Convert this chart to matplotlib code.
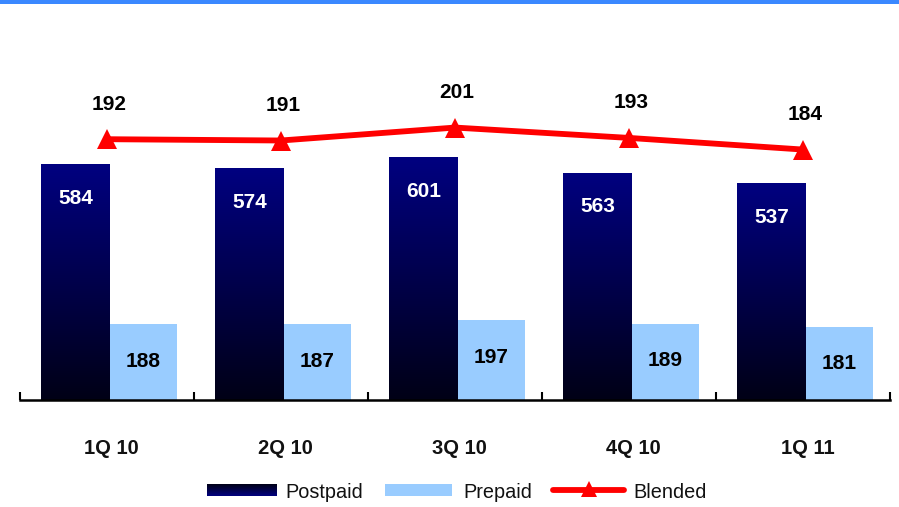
import numpy as np
import matplotlib
matplotlib.use("Agg")
import matplotlib.pyplot as plt
from matplotlib.colors import LinearSegmentedColormap
from matplotlib.patches import Rectangle
from matplotlib.lines import Line2D

plt.rcParams['font.family'] = ['Liberation Sans', 'DejaVu Sans']

# ARPU by quarter
quarters = ["1Q 10", "2Q 10", "3Q 10", "4Q 10", "1Q 11"]
postpaid = [584, 574, 601, 563, 537]
prepaid = [188, 187, 197, 189, 181]
blended = [192, 191, 201, 193, 184]

NAVY_TOP = (0 / 255, 0 / 255, 128 / 255)
NAVY_BOTTOM = (0 / 255, 0 / 255, 22 / 255)
LIGHT_BLUE = "#99ccff"
RED = "#ff0000"
navy_cmap = LinearSegmentedColormap.from_list("navy_grad", [NAVY_BOTTOM, NAVY_TOP])
grad = np.linspace(0, 1, 256).reshape(-1, 1)

W, H = 899, 507
fig = plt.figure(figsize=(W / 100, H / 100), dpi=100)


def fx(px):
    return px / W


def fy(py):
    return 1 - py / H


# thin accent band along the top edge
fig.patches.append(Rectangle((0, fy(4)), 1, 4 / H, transform=fig.transFigure,
                             facecolor="#3a88ff", edgecolor="none", zorder=0))

ax = fig.add_axes([fx(20), fy(400), fx(870), 340 / H])
ax2 = ax.twinx()

x = np.arange(len(quarters))
pw, qw = 0.395, 0.385
post_left = x - 0.378
pre_left = x + 0.017

bars_post = ax.bar(post_left, postpaid, width=pw, align="edge",
                   color="none", edgecolor="none", zorder=2)
for rect in bars_post:
    x0, w, h = rect.get_x(), rect.get_width(), rect.get_height()
    im = ax.imshow(grad, cmap=navy_cmap, origin="lower", aspect="auto",
                   extent=[x0, x0 + w, 0, h], zorder=2, interpolation="bicubic")
    im.set_clip_path(rect)

ax.bar(pre_left, prepaid, width=qw, align="edge", color=LIGHT_BLUE,
       edgecolor="none", zorder=2)

VAL_FS = 15
for xi, v in zip(post_left + pw / 2, postpaid):
    ax.annotate(str(v), (xi, v), xytext=(0, -34), textcoords="offset pixels",
                ha="center", va="center", color="white", fontsize=VAL_FS,
                fontweight="bold", zorder=5)
for xi, v in zip(pre_left + qw / 2, prepaid):
    ax.annotate(str(v), (xi, v), xytext=(0, -37), textcoords="offset pixels",
                ha="center", va="center", color="black", fontsize=VAL_FS,
                fontweight="bold", zorder=5)

ax.set_xlim(-0.5, len(quarters) - 0.5)
ax.set_ylim(0, 340 / 0.404)

# blended line on its own scale
ax2.plot(x, blended, color=RED, lw=4.2, marker="^", markersize=15,
         markeredgewidth=0, zorder=4)
for xi, v in zip(x, blended):
    ax2.annotate(str(v), (xi, v), xytext=(2, 35), textcoords="offset pixels",
                 ha="center", va="center", color="black", fontsize=VAL_FS,
                 fontweight="bold")
ax2.set_ylim(-9.5, 253.2)

for a in (ax, ax2):
    for s in ("top", "right", "left"):
        a.spines[s].set_visible(False)
    a.set_yticks([])
ax2.spines["bottom"].set_visible(False)

ax.spines["bottom"].set_linewidth(1.8)
ax.spines["bottom"].set_zorder(6)
ax.set_xticks(np.arange(-0.5, len(quarters), 1.0))
ax.set_xticklabels([])
ax.tick_params(axis="x", direction="in", length=5.5, width=1.5, color="black")

for xi, q in zip(x, quarters):
    ax.text(xi + 0.025, -48 / 340, q, transform=ax.get_xaxis_transform(),
            ha="center", va="center", fontsize=14.5, fontweight="bold",
            color="#111111")

# legend row
ly = 490
lh = 12
leg_ax = fig.add_axes([0, 0, 1, 1], zorder=-1)
leg_ax.set_xlim(0, W)
leg_ax.set_ylim(H, 0)
leg_ax.axis("off")
leg_ax.imshow(grad, cmap=navy_cmap, origin="upper", aspect="auto",
              extent=[207, 277, ly + lh / 2, ly - lh / 2], interpolation="bicubic")
LEG_FS = 14.3
leg_ax.text(285, ly + 3, "Postpaid", ha="left", va="center", fontsize=LEG_FS, color="#111111")
leg_ax.add_patch(Rectangle((385, ly - lh / 2), 67, lh, facecolor=LIGHT_BLUE, edgecolor="none"))
leg_ax.text(463, ly + 3, "Prepaid", ha="left", va="center", fontsize=LEG_FS, color="#111111")
leg_ax.add_line(Line2D([553, 624], [ly, ly], color=RED, lw=4.2, solid_capstyle="round"))
leg_ax.add_line(Line2D([589], [ly - 1], color=RED, marker="^", markersize=11, markeredgewidth=0))
leg_ax.text(633, ly + 3, "Blended", ha="left", va="center", fontsize=LEG_FS, color="#111111")
leg_ax.set_xlim(0, W)
leg_ax.set_ylim(H, 0)

fig.savefig("out.png", dpi=100)
